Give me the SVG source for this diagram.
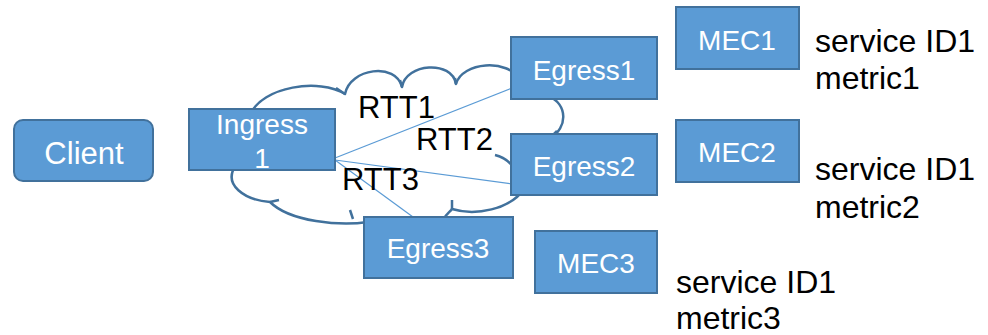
<svg xmlns="http://www.w3.org/2000/svg" width="988" height="335" viewBox="0 0 988 335">
<style>
.box{fill:#5B9BD5;stroke:#41719C;stroke-width:2}
.bt{font-family:"Liberation Sans",Arial,sans-serif;font-size:28px;fill:#fff;text-anchor:middle}
.lbl{font-family:"Liberation Sans",Arial,sans-serif;font-size:31px;fill:#000}
.note{font-family:"Liberation Sans",Arial,sans-serif;font-size:32px;fill:#000}
.cloud{fill:#fff;stroke:#41719C;stroke-width:2.5;stroke-linejoin:round}
.tick{fill:none;stroke:#41719C;stroke-width:2.5}
.conn{stroke:#5B9BD5;stroke-width:1.2;fill:none}
</style>
<g id="cloud">
<path class="cloud" d="M250,115 C262,86 320,78 345,94 C350,68 396,62 402,87 C406,63 452,60 456,84 C462,62 508,58 520,80 L548,96 C568,104 568,128 550,138 L525,188 C510,210 475,216 452,209 C450,212 446,214 443,220 L368,222 C340,226 290,222 270,202 C245,200 222,185 236,165 Z"/>
<path class="tick" d="M345,94 L336,88 M402,87 L400,80 M456,84 L455,78 M557,131 L552,136 M495,155 C503,157 509,161 513,167 M452,209 L452,200 M353,219 L350,210 M270,202 L279,200"/>
</g>
<g id="connectors">
<line class="conn" x1="335" y1="158" x2="512" y2="88"/>
<line class="conn" x1="335" y1="160" x2="512" y2="184"/>
<line class="conn" x1="335" y1="160" x2="413" y2="217"/>
</g>
<g id="client">
<rect class="box" x="14" y="120" width="139" height="61" rx="9"/>
<text class="bt" x="84" y="164" style="font-size:31px">Client</text>
</g>
<g id="ingress1">
<rect class="box" x="189" y="109" width="146" height="61"/>
<text class="bt" x="262" y="134">Ingress</text>
<text class="bt" x="262" y="168">1</text>
</g>
<g id="egress1">
<rect class="box" x="511" y="37" width="146" height="62"/>
<text class="bt" x="584" y="80">Egress1</text>
</g>
<g id="egress2">
<rect class="box" x="511" y="134" width="146" height="61"/>
<text class="bt" x="584" y="176">Egress2</text>
</g>
<g id="egress3">
<rect class="box" x="364" y="217" width="149" height="61"/>
<text class="bt" x="438" y="258">Egress3</text>
</g>
<g id="mec1">
<rect class="box" x="676" y="7" width="123" height="62"/>
<text class="bt" x="737" y="50">MEC1</text>
</g>
<g id="mec2">
<rect class="box" x="676" y="120" width="123" height="62"/>
<text class="bt" x="737" y="162">MEC2</text>
</g>
<g id="mec3">
<rect class="box" x="535" y="231" width="122" height="62"/>
<text class="bt" x="596" y="273">MEC3</text>
</g>
<g id="labels">
<text class="lbl" x="358" y="118">RTT1</text>
<text class="lbl" x="416" y="150">RTT2</text>
<text class="lbl" x="342" y="190">RTT3</text>
<text class="note" x="815" y="52">service ID1</text>
<text class="note" x="815" y="89">metric1</text>
<text class="note" x="815" y="180">service ID1</text>
<text class="note" x="815" y="218">metric2</text>
<text class="note" x="676" y="293">service ID1</text>
<text class="note" x="676" y="329">metric3</text>
</g>
</svg>
